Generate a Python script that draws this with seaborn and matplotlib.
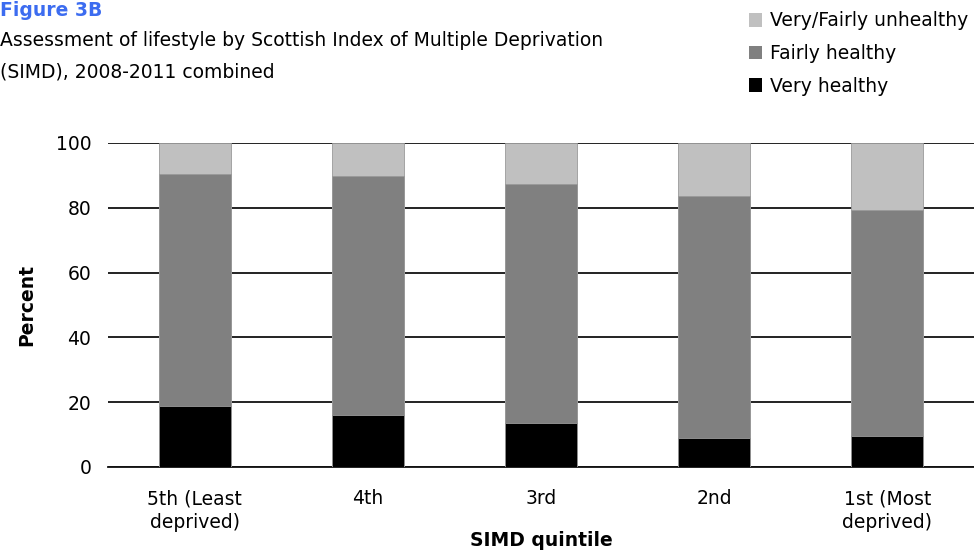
import matplotlib
matplotlib.use("Agg")
import matplotlib.pyplot as plt
from matplotlib.patches import Patch
import numpy as np
import pandas as pd
import seaborn as sns

# Lifestyle assessment by SIMD quintile (percent)
quintiles = ["5th (Least\ndeprived)", "4th", "3rd", "2nd", "1st (Most\ndeprived)"]
very_healthy = [18.8, 16.2, 13.6, 8.8, 9.5]
fairly_healthy = [71.7, 73.5, 73.7, 74.8, 69.8]
unhealthy = [9.5, 10.3, 12.7, 16.4, 20.7]
series_labels = ["Very/Fairly unhealthy", "Fairly healthy", "Very healthy"]
series_colors = ["#C0C0C0", "#808080", "#000000"]
y_ticks = [0, 20, 40, 60, 80, 100]

sns.set_theme(style="white")
plt.rcParams["font.family"] = ["DejaVu Sans"]
plt.rcParams["text.color"] = "black"
plt.rcParams["axes.labelcolor"] = "black"
plt.rcParams["xtick.color"] = "black"
plt.rcParams["ytick.color"] = "black"

FS = 13.5

fig = plt.figure(figsize=(9.74, 5.52), dpi=100)
ax = fig.add_axes([108 / 974, 1 - 467 / 552, 1 - 108 / 974, (467 - 143) / 552])

# Stacked layers drawn as cumulative totals, tallest first
vh = np.array(very_healthy)
fh = np.array(fairly_healthy)
uh = np.array(unhealthy)
layers = [vh + fh + uh, vh + fh, vh]
for total, color in zip(layers, series_colors):
    df = pd.DataFrame({"quintile": quintiles, "value": total})
    sns.barplot(data=df, x="quintile", y="value", order=quintiles, color=color,
                width=0.415, saturation=1, edgecolor="#9a9a9a", linewidth=0.6,
                ax=ax, zorder=3)

ax.set_ylim(0, 100)
ax.set_xlim(-0.5, 4.5)
ax.set_yticks(y_ticks)
ax.set_yticklabels([str(t) for t in y_ticks], fontsize=FS)
ax.tick_params(axis="y", length=0, pad=12)

# Ticks sit between categories on the x axis
ax.set_xticks(np.arange(len(quintiles)))
ax.set_xticklabels(quintiles, fontsize=FS, linespacing=1.3)
ax.tick_params(axis="x", length=0, pad=16)
ax.set_xticks(np.arange(-0.5, len(quintiles), 1.0), minor=True)
ax.tick_params(axis="x", which="minor", length=5, width=1.2, color="black", direction="out")

ax.yaxis.grid(True, color="#111111", linewidth=1.3, zorder=0)
ax.xaxis.grid(False)
ax.set_axisbelow(True)
for side in ["left", "right", "top"]:
    ax.spines[side].set_visible(False)
ax.spines["bottom"].set_color("#111111")
ax.spines["bottom"].set_linewidth(1.3)

ax.set_xlabel("SIMD quintile", fontsize=FS, fontweight="bold")
ax.xaxis.label.set_va("center")
ax.xaxis.set_label_coords(0.5, -(541 - 467) / 324)
ax.set_ylabel("Percent", fontsize=FS, fontweight="bold", labelpad=14)

fig.text(0.0, 1 - 1 / 552, "Figure 3B", fontsize=FS, fontweight="bold",
         color="#3C6CF0", va="top", ha="left")
fig.text(0.0, 1 - 31 / 552,
         "Assessment of lifestyle by Scottish Index of Multiple Deprivation\n(SIMD), 2008-2011 combined",
         fontsize=FS, va="top", ha="left", linespacing=1.82)

handles = [Patch(facecolor=c, edgecolor="none") for c in series_colors]
fig.legend(handles, series_labels, loc="upper left",
           bbox_to_anchor=(741 / 974, 1 - 4 / 552), frameon=False,
           fontsize=FS, handlelength=0.7, handleheight=0.7,
           handletextpad=0.45, labelspacing=0.72, borderaxespad=0)

fig.savefig("out.png", dpi=100)
